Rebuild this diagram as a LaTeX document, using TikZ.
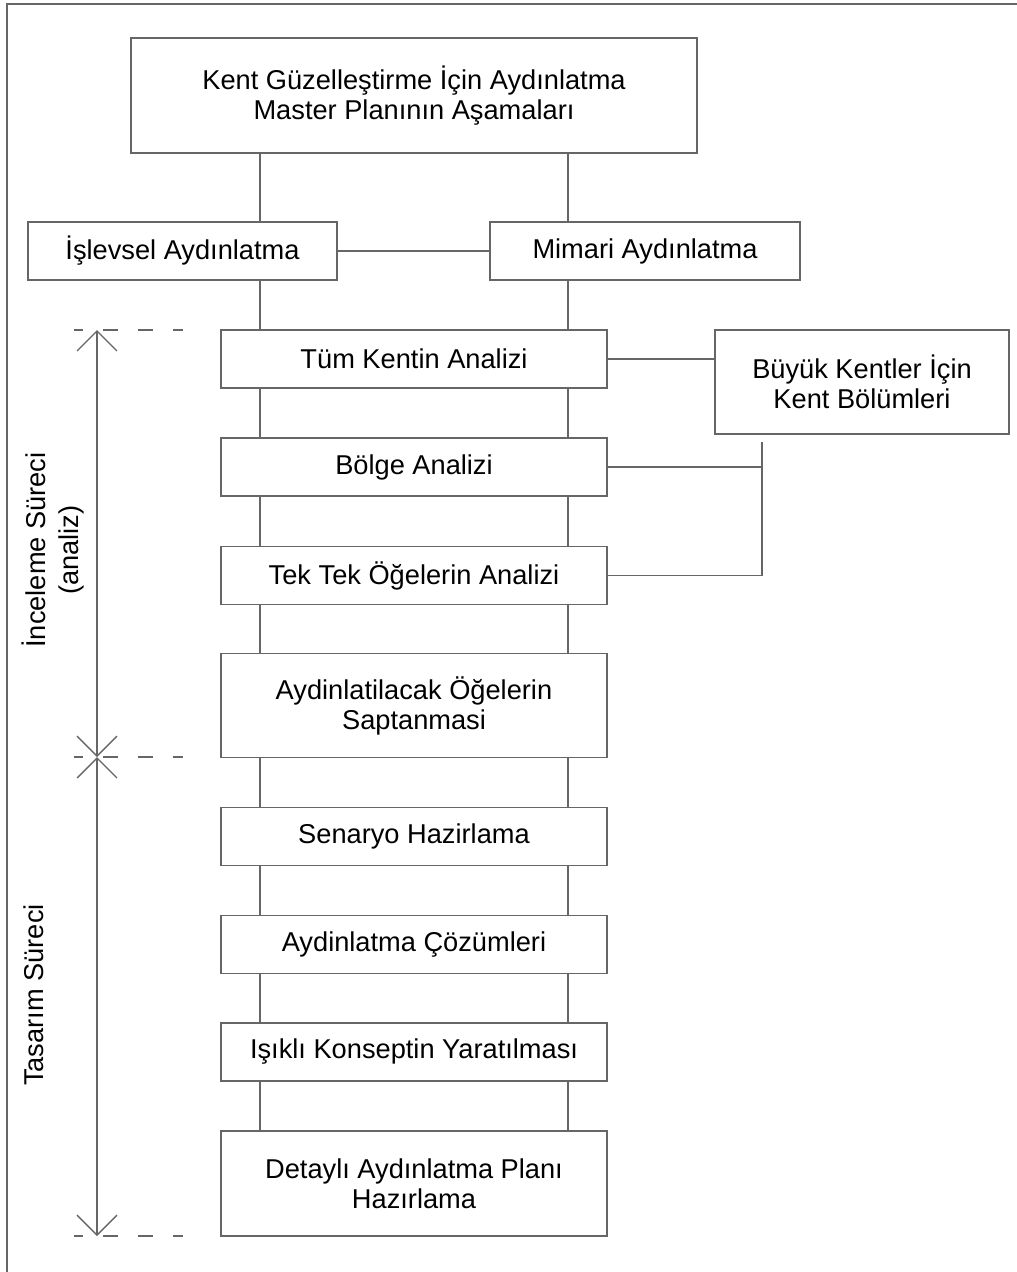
\documentclass[tikz,border=0pt]{standalone}
\usepackage{fontspec}
\setmainfont{Liberation Sans}
\usetikzlibrary{arrows.meta}
\tikzstyle{box}=[draw=black!60,line width=0.8pt,fill=white,minimum width=7.72cm,minimum height=1.16cm,inner sep=2pt,align=center,font=\fontsize{15.5pt}{17pt}\selectfont]
\tikzstyle{bigbox}=[box,minimum height=2.08cm]
\tikzstyle{link}=[draw=black!60,line width=0.8pt]
\tikzstyle{guide}=[draw=black!60,line width=0.8pt,dash pattern=on 0.3cm off 0.4cm,dash phase=0.12cm]
\tikzstyle{span}=[draw=black!60,line width=0.8pt,arrows={Straight Barb[length=0.4cm,width=0.8cm]-Straight Barb[length=0.4cm,width=0.8cm]}]
\tikzstyle{phase}=[align=center,inner sep=0pt,rotate=90,font=\fontsize{15.5pt}{18.5pt}\selectfont]

\begin{document}
\begin{tikzpicture}[x=0.02cm,y=-0.02cm]
    \useasboundingbox (0,0) rectangle (1017,1272);
    \draw[link] (7,1272) -- (7,4) -- (1017,4);
%   main column
    \node[box,minimum width=11.32cm,minimum height=2.3cm] (top) at (414,95.5) {Kent Güzelleştirme İçin Aydınlatma\\Master Planının Aşamaları};
    \node[box,minimum width=6.18cm] (isl) at (182.5,251) {İşlevsel Aydınlatma};
    \node[box,minimum width=6.2cm] (mim) at (645,251) {Mimari Aydınlatma};
    \node[box] (tum) at (414,359) {Tüm Kentin Analizi};
    \node[box] (bol) at (414,467) {Bölge Analizi};
    \node[box] (tek) at (414,575.5) {Tek Tek Öğelerin Analizi};
    \node[bigbox] (ayd) at (414,705.5) {Aydinlatilacak Öğelerin\\Saptanmasi};
    \node[box] (sen) at (414,836.5) {Senaryo Hazirlama};
    \node[box] (coz) at (414,944.5) {Aydinlatma Çözümleri};
    \node[box] (isi) at (414,1052) {Işıklı Konseptin Yaratılması};
    \node[bigbox,minimum height=2.1cm] (det) at (414,1183.5) {Detaylı Aydınlatma Planı\\Hazırlama};
    \node[box,minimum width=5.88cm,minimum height=2.08cm] (buy) at (862,382) {Büyük Kentler İçin\\Kent Bölümleri};
%   vertical links
    \coordinate (lx) at (260,0);
    \coordinate (rx) at (568,0);
    \foreach \a/\b in {top/isl,isl/tum,tum/bol,bol/tek,tek/ayd,ayd/sen,sen/coz,coz/isi,isi/det}
        \draw[link] (\a.south -| lx) -- (\b.north -| lx);
    \foreach \a/\b in {top/mim,mim/tum,tum/bol,bol/tek,tek/ayd,ayd/sen,sen/coz,coz/isi,isi/det}
        \draw[link] (\a.south -| rx) -- (\b.north -| rx);
    \draw[link] (isl) -- (mim);
    \draw[link] (tum.east) -- (tum.east -| buy.west);
    \coordinate (br) at (762,442);
    \draw[link] (bol.east) -- (bol.east -| br);
    \draw[link] (br) |- (tek.east);
%   process spans
    \coordinate (s1) at (97,330);
    \coordinate (s2) at (97,757);
    \coordinate (s3) at (97,1236);
    \draw[span] (s1) -- (s2);
    \draw[span] (s2) -- (s3);
    \foreach \s in {s1,s2,s3}
        \draw[guide] (\s) ++(-23,0) -- ++(109,0);
    \node[phase] (inc) at (53,550) {İnceleme Süreci\\(analiz)};
    \node[phase] (tas) at (34,995) {Tasarım Süreci};
\end{tikzpicture}
\end{document}
